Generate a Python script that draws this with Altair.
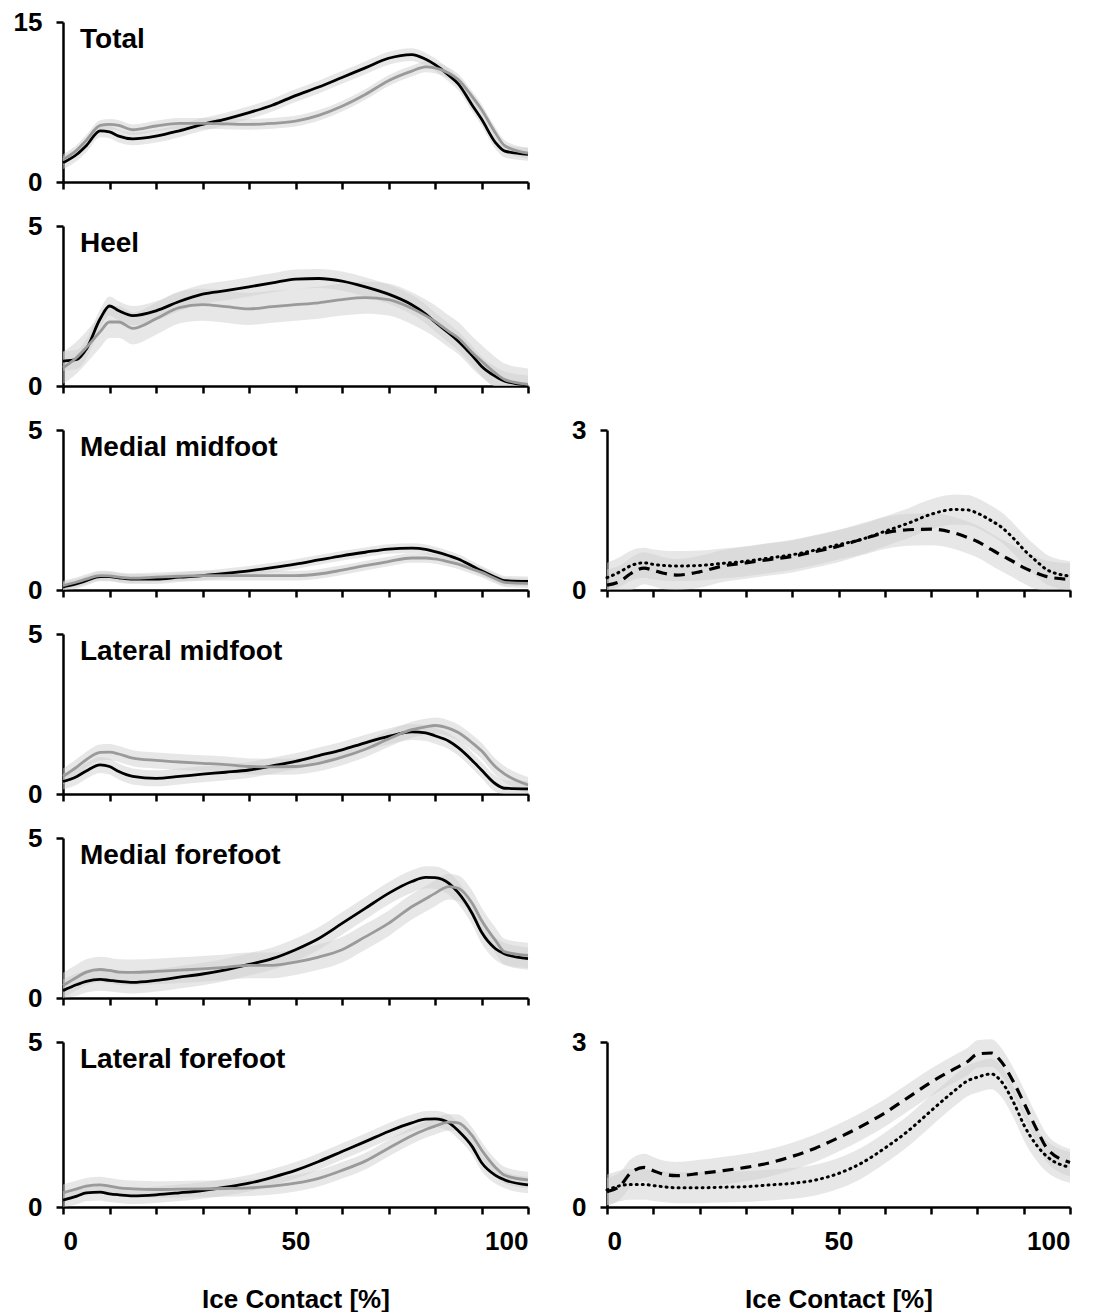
import altair as alt
import pandas as pd

# x positions (% of ice contact)
pct = [0, 3, 5, 8, 10, 12, 15, 20, 25, 30, 35, 40, 45, 50, 55, 60, 65, 70, 75, 78, 80, 83, 85, 88, 90, 93, 95, 100]

# Left column: black vs gray mean curves
total_black = [1.8, 2.6, 3.4, 4.8, 4.7, 4.3, 4.05, 4.3, 4.8, 5.4, 5.9, 6.5, 7.2, 8.1, 8.9, 9.8, 10.7, 11.6, 11.95, 11.5, 11.0, 10.0, 9.2, 7.2, 5.9, 3.7, 2.9, 2.6]
total_gray = [2.1, 3.0, 3.9, 5.3, 5.4, 5.3, 4.9, 5.25, 5.5, 5.5, 5.45, 5.4, 5.5, 5.7, 6.25, 7.1, 8.2, 9.5, 10.4, 10.8, 10.7, 10.2, 9.6, 8.0, 6.8, 4.6, 3.4, 2.7]
heel_black = [0.78, 0.83, 1.15, 2.1, 2.5, 2.35, 2.2, 2.35, 2.64, 2.87, 2.98, 3.1, 3.22, 3.34, 3.36, 3.28, 3.1, 2.87, 2.54, 2.25, 2.0, 1.65, 1.4, 0.95, 0.62, 0.3, 0.15, 0.03]
heel_gray = [0.57, 0.9, 1.2, 1.7, 2.0, 2.0, 1.8, 2.1, 2.45, 2.54, 2.48, 2.41, 2.48, 2.54, 2.6, 2.7, 2.76, 2.7, 2.43, 2.2, 2.02, 1.7, 1.5, 1.05, 0.78, 0.4, 0.2, 0.05]
medmid_black = [0.1, 0.2, 0.29, 0.42, 0.42, 0.38, 0.34, 0.34, 0.4, 0.45, 0.52, 0.6, 0.7, 0.81, 0.94, 1.07, 1.18, 1.28, 1.31, 1.27, 1.2, 1.07, 0.97, 0.75, 0.6, 0.4, 0.29, 0.27]
medmid_gray = [0.14, 0.25, 0.34, 0.45, 0.44, 0.4, 0.37, 0.4, 0.43, 0.45, 0.45, 0.45, 0.45, 0.45, 0.5, 0.62, 0.76, 0.89, 1.0, 1.0, 0.97, 0.88, 0.81, 0.65, 0.55, 0.35, 0.24, 0.21]
latmid_black = [0.39, 0.55, 0.72, 0.91, 0.86, 0.7, 0.55, 0.49, 0.55, 0.62, 0.68, 0.75, 0.88, 1.02, 1.2, 1.38, 1.6, 1.8, 1.94, 1.91, 1.82, 1.65, 1.45, 1.05, 0.75, 0.32, 0.18, 0.16]
latmid_gray = [0.55, 0.85, 1.07, 1.3, 1.31, 1.25, 1.12, 1.05, 1.0, 0.96, 0.92, 0.86, 0.85, 0.86, 0.96, 1.15, 1.4, 1.72, 2.01, 2.1, 2.14, 2.05, 1.92, 1.6, 1.35, 0.85, 0.62, 0.28]
medfore_black = [0.23, 0.42, 0.52, 0.58, 0.55, 0.52, 0.49, 0.55, 0.65, 0.75, 0.88, 1.05, 1.23, 1.51, 1.86, 2.33, 2.8, 3.27, 3.64, 3.77, 3.76, 3.58, 3.29, 2.64, 2.06, 1.54, 1.38, 1.23]
medfore_gray = [0.39, 0.65, 0.81, 0.89, 0.86, 0.81, 0.8, 0.83, 0.87, 0.91, 0.96, 1.02, 1.02, 1.12, 1.28, 1.51, 1.91, 2.33, 2.85, 3.1, 3.27, 3.48, 3.43, 2.96, 2.43, 1.8, 1.44, 1.33]
latfore_black = [0.21, 0.33, 0.43, 0.45, 0.4, 0.37, 0.34, 0.37, 0.43, 0.5, 0.6, 0.72, 0.9, 1.11, 1.38, 1.68, 1.98, 2.29, 2.55, 2.66, 2.67, 2.55, 2.31, 1.83, 1.35, 0.96, 0.82, 0.67]
latfore_gray = [0.43, 0.55, 0.63, 0.67, 0.63, 0.58, 0.55, 0.53, 0.54, 0.55, 0.56, 0.58, 0.63, 0.72, 0.87, 1.11, 1.39, 1.78, 2.16, 2.35, 2.45, 2.57, 2.55, 2.16, 1.73, 1.2, 0.96, 0.82]

# Right column: dashed vs dotted mean curves
r_medmid_dash = [0.09, 0.17, 0.3, 0.41, 0.37, 0.32, 0.28, 0.34, 0.45, 0.51, 0.57, 0.63, 0.72, 0.82, 0.95, 1.07, 1.13, 1.14, 1.07, 0.98, 0.91, 0.76, 0.66, 0.52, 0.42, 0.31, 0.25, 0.2]
r_medmid_dot = [0.23, 0.35, 0.45, 0.51, 0.48, 0.46, 0.45, 0.46, 0.5, 0.54, 0.6, 0.66, 0.75, 0.85, 0.95, 1.1, 1.25, 1.42, 1.51, 1.5, 1.44, 1.3, 1.19, 0.95, 0.76, 0.52, 0.38, 0.26]
r_latfore_dash = [0.28, 0.4, 0.61, 0.72, 0.66, 0.6, 0.57, 0.61, 0.66, 0.72, 0.8, 0.92, 1.07, 1.26, 1.47, 1.71, 1.99, 2.27, 2.51, 2.65, 2.78, 2.8, 2.66, 2.24, 1.9, 1.38, 1.07, 0.81]
r_latfore_dot = [0.31, 0.39, 0.41, 0.41, 0.39, 0.37, 0.35, 0.35, 0.36, 0.37, 0.4, 0.43, 0.49, 0.61, 0.8, 1.07, 1.38, 1.75, 2.11, 2.3, 2.36, 2.42, 2.3, 1.87, 1.5, 1.1, 0.92, 0.72]

# standard deviations (band half-widths) per series
sd = {
    "total": (0.6, 0.5), "heel": (0.3, 0.5), "medmid": (0.15, 0.15),
    "latmid": (0.25, 0.25), "medfore": (0.35, 0.4), "latfore": (0.25, 0.25),
    "r_medmid": (0.3, 0.28), "r_latfore": (0.25, 0.28),
}

FONT = "Liberation Sans"
BAND = "#cfcfcf"
LW, LH, RW = 465, 160, 463


def xenc(bottom):
    kw = dict(values=list(range(0, 101, 10)), grid=False, tickSize=7, labels=bottom)
    if bottom:
        kw.update(labelExpr="datum.value % 50 === 0 ? datum.label : ''", labelPadding=14,
                  title="Ice Contact [%]", titlePadding=32, titleFontSize=26,
                  titleFont=FONT, titleFontWeight="bold", titleColor="black")
    else:
        kw.update(title="")
    return alt.X("x:Q", scale=alt.Scale(domain=[0, 100], nice=False), axis=alt.Axis(**kw))


def yenc(field, ymax):
    return alt.Y(field, scale=alt.Scale(domain=[0, ymax], nice=False),
                 axis=alt.Axis(values=[0, ymax], grid=False, tickSize=7, labelPadding=14, title=""))


def panel(name, key, ymax, s1, s2, styles, bottom, w, h):
    d1, d2 = sd[key]
    df = pd.DataFrame({"x": pct, "a": s1, "b": s2})
    df["a_lo"] = (df["a"] - d1).clip(lower=0)
    df["a_hi"] = df["a"] + d1
    df["b_lo"] = (df["b"] - d2).clip(lower=0)
    df["b_hi"] = df["b"] + d2
    base = alt.Chart(df)
    layers = []
    for s in ("a", "b"):
        layers.append(base.mark_area(color=BAND, opacity=0.5, interpolate="monotone").encode(
            x=xenc(bottom), y=yenc(f"{s}_lo:Q", ymax), y2=f"{s}_hi:Q"))
    for s, st in zip(("a", "b"), styles):
        layers.append(base.mark_line(interpolate="monotone", **st).encode(
            x=xenc(bottom), y=yenc(f"{s}:Q", ymax)))
    if name:
        layers.append(alt.Chart(pd.DataFrame({"t": [name]})).mark_text(
            align="left", baseline="middle", font=FONT, fontWeight="bold", fontSize=28, color="black"
        ).encode(text="t:N", x=alt.value(17), y=alt.value(18)))
    return alt.layer(*layers).properties(width=w, height=h)


def empty(w, h):
    return alt.Chart(pd.DataFrame({"x": [0]})).mark_point(opacity=0).encode(
        x=alt.X("x:Q", axis=None), y=alt.Y("x:Q", axis=None)).properties(width=w, height=h)


left_styles = [dict(color="black", strokeWidth=2.8), dict(color="#9a9a9a", strokeWidth=2.8)]
right_styles = [dict(color="black", strokeWidth=3.2, strokeDash=[11, 7]),
                dict(color="black", strokeWidth=3, strokeDash=[1, 5], strokeCap="round")]

BH = 165
cells = [
    panel("Total", "total", 15, total_black, total_gray, left_styles, False, LW, LH), empty(RW, LH),
    panel("Heel", "heel", 5, heel_black, heel_gray, left_styles, False, LW, LH), empty(RW, LH),
    panel("Medial midfoot", "medmid", 5, medmid_black, medmid_gray, left_styles, False, LW, LH),
    panel("", "r_medmid", 3, r_medmid_dash, r_medmid_dot, right_styles, False, RW, LH),
    panel("Lateral midfoot", "latmid", 5, latmid_black, latmid_gray, left_styles, False, LW, LH), empty(RW, LH),
    panel("Medial forefoot", "medfore", 5, medfore_black, medfore_gray, left_styles, False, LW, LH), empty(RW, LH),
    panel("Lateral forefoot", "latfore", 5, latfore_black, latfore_gray, left_styles, True, LW, BH),
    panel("", "r_latfore", 3, r_latfore_dash, r_latfore_dot, right_styles, True, RW, BH),
]

chart = alt.concat(*cells, columns=2, spacing={"row": 18, "column": 37}).properties(
    align="each", padding={"left": 5, "top": 1, "right": 5, "bottom": 0}
).configure_view(stroke=None).configure_axis(
    domainColor="black", domainWidth=2.5, tickColor="black", tickWidth=2.5,
    labelFont=FONT, labelFontWeight="bold", labelFontSize=26, labelColor="black",
)

chart.save("out.html", embed_options={"renderer": "svg", "actions": False})
